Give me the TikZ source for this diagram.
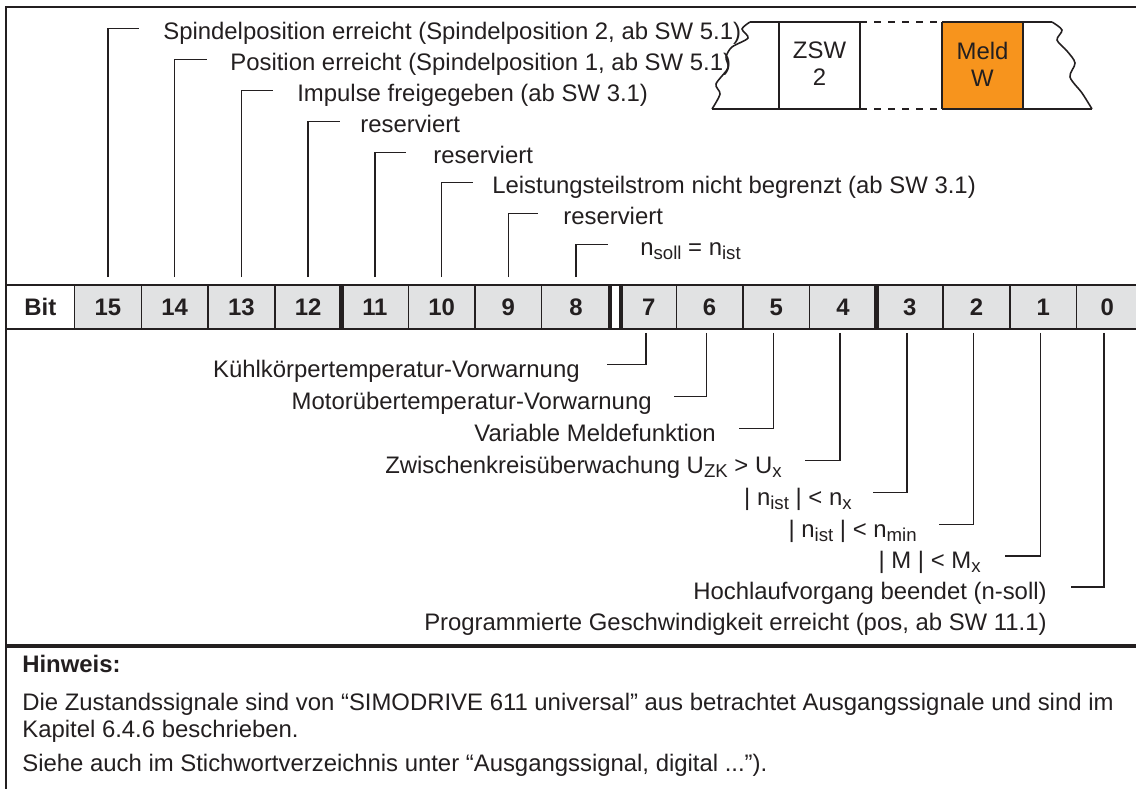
\documentclass[tikz,border=0pt]{standalone}
\usepackage{fontspec}
\setmainfont{Liberation Sans}
\usetikzlibrary{positioning}
\definecolor{linec}{HTML}{231F20}
\definecolor{cellgray}{HTML}{E1E2E3}
\definecolor{meldorange}{HTML}{F7941D}
\newcommand{\subtx}[1]{\raisebox{-0.35ex}{\fontsize{10.6pt}{12pt}\selectfont #1}}

\begin{document}
\begin{tikzpicture}[x=0.02cm, y=-0.02cm, text=linec,
  font=\fontsize{13.6pt}{15.3pt}\selectfont,
  bitcell/.style={draw=linec, line width=0.8pt, fill=cellgray, minimum width=1.335cm,
    minimum height=0.88cm, inner sep=0pt, outer sep=0pt, font=\fontsize{13.6pt}{15.3pt}\selectfont\bfseries},
  lbl/.style={inner sep=0pt},
  lead/.style={draw=linec, line width=0.9pt},
  bitsep/.style={draw=linec, line width=2.4pt},
  gapto/.style={shorten >=#1}]
\useasboundingbox (0,0) rectangle (1136,788);

\draw[lead] (1140,7) -- (6,7) -- (6,792);
\draw[linec, line width=2.4pt] (6,646) -- (1140,646);

\fill[meldorange] (942,22) rectangle (1023,109);
\draw[lead] (750,22) -- (860,22);
\draw[lead] (942,22) -- (1052,22);
\draw[lead] (712,109) -- (860,109);
\draw[lead] (942,109) -- (1092,109);
\draw[lead, dash pattern=on 4pt off 4pt] (860,22) -- (942,22);
\draw[lead, dash pattern=on 4pt off 4pt] (860,109) -- (942,109);
\draw[lead] (779,22) -- (779,109);
\draw[lead] (860,22) -- (860,109);
\draw[lead] (942,22) -- (942,109);
\draw[lead] (1023,22) -- (1023,109);
\draw[lead] plot[smooth] coordinates {(750,22) (742,29) (748,38) (732,47) (726,57) (728,68) (716,84) (720,94) (712,109)};
\draw[lead] plot[smooth] coordinates {(1052,22) (1062,30) (1057,40) (1067,51) (1075,63) (1070,77) (1082,93) (1092,109)};
\node[align=center] (zsw) at (819.5,64) {ZSW\\2};
\node[align=center] (meld) at (982.5,64) {Meld\\W};

\node[bitcell, fill=white, minimum width=1.372cm, anchor=north west] (bit) at (6,285) {Bit};
\node[bitcell, right=0pt of bit] (c15) {15};
\node[bitcell, right=0pt of c15] (c14) {14};
\node[bitcell, right=0pt of c14] (c13) {13};
\node[bitcell, right=0pt of c13] (c12) {12};
\node[bitcell, right=0pt of c12] (c11) {11};
\node[bitcell, right=0pt of c11] (c10) {10};
\node[bitcell, right=0pt of c10] (c9) {9};
\node[bitcell, right=0pt of c9, minimum width=1.37cm] (c8) {8};
\node[bitcell, right=0.22cm of c8, minimum width=1.1cm] (c7) {7};
\node[bitcell, right=0pt of c7] (c6) {6};
\node[bitcell, right=0pt of c6] (c5) {5};
\node[bitcell, right=0pt of c5] (c4) {4};
\node[bitcell, right=0pt of c4] (c3) {3};
\node[bitcell, right=0pt of c3] (c2) {2};
\node[bitcell, right=0pt of c2] (c1) {1};
\node[bitcell, right=0pt of c1, minimum width=1.22cm] (c0) {0};
\draw[lead] (c8.north east) -- (c7.north west);
\draw[lead] (c8.south east) -- (c7.south west);
\draw[bitsep] (c12.north east) -- (c12.south east);
\draw[bitsep] (c8.north east) -- (c8.south east);
\draw[bitsep] (c7.north west) -- (c7.south west);
\draw[bitsep] (c4.north east) -- (c4.south east);

\node[lbl, anchor=base west] (l15) at (163,39) {Spindelposition erreicht (Spindelposition 2, ab SW 5.1)};
\node[lbl, anchor=base west] (l14) at (230,70) {Position erreicht (Spindelposition 1, ab SW 5.1)};
\node[lbl, anchor=base west] (l13) at (297,101) {Impulse freigegeben (ab SW 3.1)};
\node[lbl, anchor=base west] (l12) at (360,132) {reserviert};
\node[lbl, anchor=base west] (l11) at (433,163) {reserviert};
\node[lbl, anchor=base west] (l10) at (492,193) {Leistungsteilstrom nicht begrenzt (ab SW 3.1)};
\node[lbl, anchor=base west] (l9) at (563,224) {reserviert};
\node[lbl, anchor=base west] (l8) at (640,255) {n\subtx{soll} = n\subtx{ist}};
\draw[lead, shorten <=0.16cm, gapto=0.48cm] (c15.north) |- ([yshift=6pt]l15.base west);
\draw[lead, shorten <=0.16cm, gapto=0.46cm] (c14.north) |- ([yshift=6pt]l14.base west);
\draw[lead, shorten <=0.16cm, gapto=0.48cm] (c13.north) |- ([yshift=6pt]l13.base west);
\draw[lead, shorten <=0.16cm, gapto=0.40cm] (c12.north) |- ([yshift=6pt]l12.base west);
\draw[lead, shorten <=0.16cm, gapto=0.54cm] (c11.north) |- ([yshift=6pt]l11.base west);
\draw[lead, shorten <=0.16cm, gapto=0.38cm] (c10.north) |- ([yshift=6pt]l10.base west);
\draw[lead, shorten <=0.16cm, gapto=0.50cm] (c9.north) |- ([yshift=6pt]l9.base west);
\draw[lead, shorten <=0.16cm, gapto=0.64cm] (c8.north) |- ([yshift=6pt]l8.base west);

\node[lbl, anchor=base east] (l7) at (580,377) {Kühlkörpertemperatur-Vorwarnung};
\node[lbl, anchor=base east] (l6) at (652,409) {Motorübertemperatur-Vorwarnung};
\node[lbl, anchor=base east] (l5) at (716,441) {Variable Meldefunktion};
\node[lbl, anchor=base east] (l4) at (782,473) {Zwischenkreisüberwachung U\subtx{ZK} > U\subtx{x}};
\node[lbl, anchor=base east] (l3) at (852,505) {| n\subtx{ist} | < n\subtx{x}};
\node[lbl, anchor=base east] (l2) at (917,537) {| n\subtx{ist} | < n\subtx{min}};
\node[lbl, anchor=base east] (l1) at (981,568) {| M | < M\subtx{x}};
\node[lbl, anchor=base east] (l0) at (1047,599) {Hochlaufvorgang beendet (n-soll)};
\node[lbl, anchor=base east] (l0b) at (1047,630) {Programmierte Geschwindigkeit erreicht (pos, ab SW 11.1)};
\draw[lead, shorten <=0.08cm, gapto=0.54cm] ([xshift=-1.7pt]c7.south) |- ([yshift=7pt]l7.base east);
\draw[lead, shorten <=0.08cm, gapto=0.44cm] ([xshift=-1.7pt]c6.south) |- ([yshift=7pt]l6.base east);
\draw[lead, shorten <=0.08cm, gapto=0.46cm] ([xshift=-1.7pt]c5.south) |- ([yshift=7pt]l5.base east);
\draw[lead, shorten <=0.08cm, gapto=0.46cm] ([xshift=-1.7pt]c4.south) |- ([yshift=7pt]l4.base east);
\draw[lead, shorten <=0.08cm, gapto=0.42cm] ([xshift=-1.7pt]c3.south) |- ([yshift=7pt]l3.base east);
\draw[lead, shorten <=0.08cm, gapto=0.44cm] ([xshift=-1.7pt]c2.south) |- ([yshift=7pt]l2.base east);
\draw[lead, shorten <=0.08cm, gapto=0.48cm] ([xshift=-1.7pt]c1.south) |- ([yshift=7pt]l1.base east);
\draw[lead, shorten <=0.08cm, gapto=0.48cm] ([xshift=-1.7pt]c0.south) |- ([yshift=7pt]l0.base east);

\node[lbl, anchor=base west, font=\fontsize{13.6pt}{15.3pt}\selectfont\bfseries] (hint) at (22,672) {Hinweis:};
\node[lbl, anchor=base west] (note1) at (22,710) {Die Zustandssignale sind von “SIMODRIVE 611 universal” aus betrachtet Ausgangssignale und sind im};
\node[lbl, anchor=base west] (note2) at (22,737) {Kapitel 6.4.6 beschrieben.};
\node[lbl, anchor=base west] (note3) at (22,771) {Siehe auch im Stichwortverzeichnis unter “Ausgangssignal, digital ...”).};
\end{tikzpicture}
\end{document}
